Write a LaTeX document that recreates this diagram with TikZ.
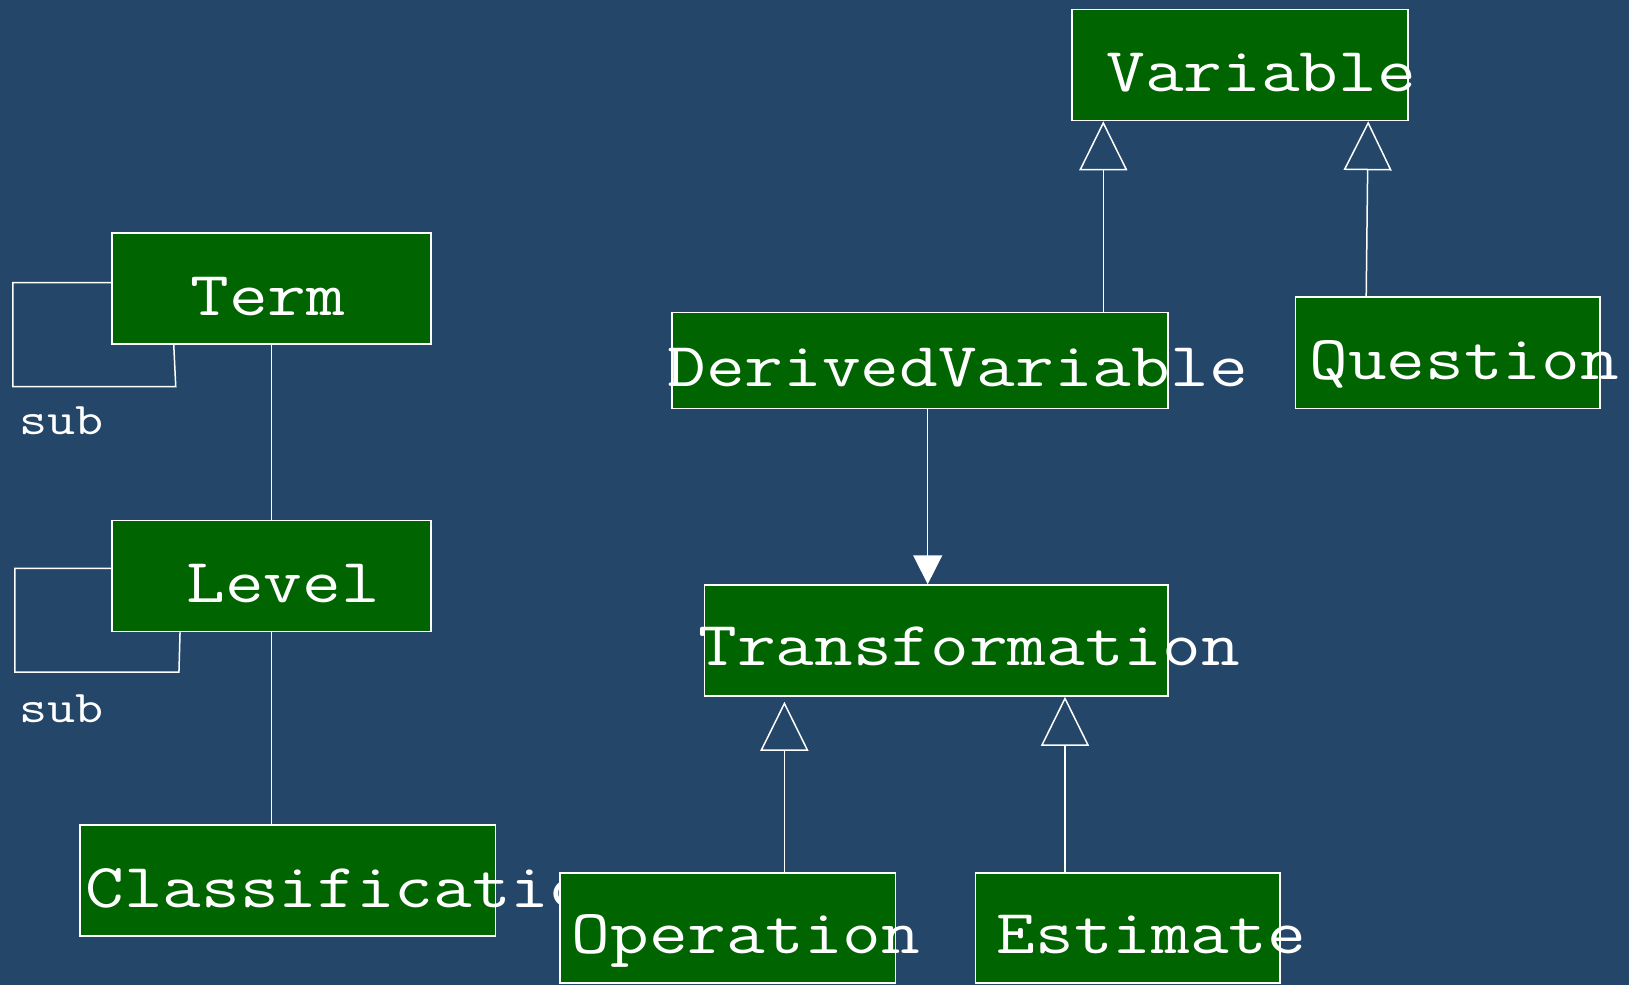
\documentclass[tikz,border=0pt]{standalone}
\usepackage{fontspec}
\setmonofont{Latin Modern Mono}[FakeStretch=1.2]
\usetikzlibrary{arrows.meta,positioning,calc}
\definecolor{bgblue}{RGB}{35,70,105}
\definecolor{boxgreen}{RGB}{0,100,0}

\begin{document}
\begin{tikzpicture}[x=0.5pt, y=-0.5pt,
    cls/.style={draw=white, fill=boxgreen, line width=0.75pt, inner sep=0pt},
    clsname/.style={text=white, anchor=base west, inner sep=0pt, font=\ttfamily\fontsize{31.3pt}{36pt}\selectfont},
    rolename/.style={text=white, anchor=base west, inner sep=0pt, font=\ttfamily\fontsize{22.7pt}{26pt}\selectfont},
    link/.style={draw=white, line width=0.75pt},
    inherit/.style={link, -{Triangle[open, length=24.5pt, width=24pt]}},
    navig/.style={link, -{Triangle[length=14.5pt, width=14.5pt]}}]

    % Background
    \fill[bgblue] (0,0) rectangle (1629,985);
    \useasboundingbox (0,0) rectangle (1629,985);

    % Classes
    \node[cls, minimum width=168pt, minimum height=55.5pt] (variable) at (1240,65) {};
    \node[clsname] (variable-t) at (1106,91.4) {Variable};
    \node[cls, minimum width=159.5pt, minimum height=55.5pt] (term) at (271.5,288.5) {};
    \node[clsname] (term-t) at (190,315) {Term};
    \node[cls, minimum width=159.5pt, minimum height=55.5pt] (level) at (271.5,576) {};
    \node[clsname] (level-t) at (186,602.6) {Level};
    \node[cls, minimum width=207.8pt, minimum height=55.5pt] (class) at (287.8,880.5) {};
    \node[clsname] (class-t) at (85,907) {Classification};
    \node[cls, minimum width=248pt, minimum height=47.8pt] (dv) at (920,360.5) {};
    \node[clsname] (dv-t) at (667,386.5) {DerivedVariable};
    \node[cls, minimum width=152.25pt, minimum height=55.65pt] (question) at (1447.8,352.7) {};
    \node[clsname] (question-t) at (1309,379) {Question};
    \node[cls, minimum width=231.8pt, minimum height=55.5pt] (trans) at (936.2,640.5) {};
    \node[clsname] (trans-t) at (698,665) {Transformation};
    \node[cls, minimum width=167.75pt, minimum height=55pt] (operation) at (727.8,928) {};
    \node[clsname] (operation-t) at (571.5,953.7) {Operation};
    \node[cls, minimum width=152.25pt, minimum height=55pt] (estimate) at (1127.8,928) {};
    \node[clsname] (estimate-t) at (996.4,953.7) {Estimate};

    % Self associations
    \draw[link] ([yshift=3pt]term.west) -- ++(-98.5,0) -- ++(0,104) -- ++(163,0) -- ([xshift=31.25pt]term.south west);
    \node[rolename] (term-sub) at (19,434) {sub};
    \draw[link] ([yshift=3.85pt]level.west) -- ++(-96.4,0) -- ++(0,103.7) -- ++(164.1,0) -- ([xshift=34.4pt]level.south west);
    \node[rolename] (level-sub) at (19,722) {sub};

    % Associations
    \draw[link] (term) -- (level);
    \draw[link] (level.south) -- (level.south |- class.north);
    \coordinate (dv-down) at ([xshift=3.85pt]dv.south);
    \draw[navig] (dv-down) -- (dv-down |- trans.north);

    % Generalizations
    \coordinate (dv-up) at ([xshift=91.65pt]dv.north);
    \draw[inherit] (dv-up) -- (dv-up |- variable.south);
    \draw[inherit] ([xshift=-40.8pt]question.north) -- ([xshift=64.1pt]variable.south);
    \coordinate (op-up) at ([xshift=28.3pt]operation.north);
    \draw[inherit, shorten >=2.5pt] (op-up) -- (op-up |- trans.south);
    \coordinate (est-up) at ([xshift=-31.4pt]estimate.north);
    \draw[inherit] (est-up) -- (est-up |- trans.south);
\end{tikzpicture}
\end{document}
